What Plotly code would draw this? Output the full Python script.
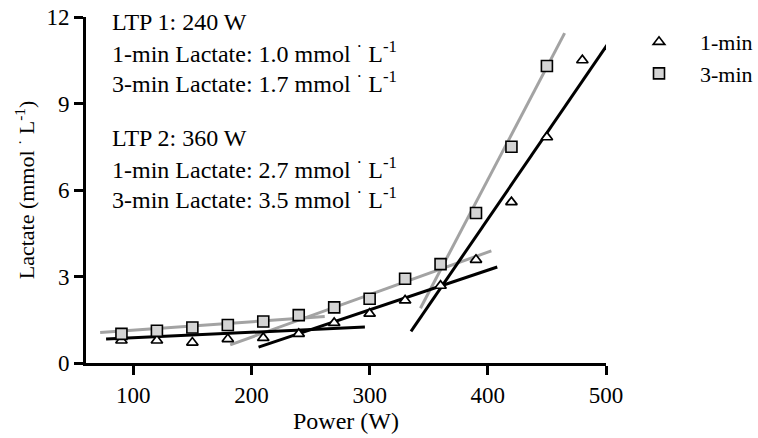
import plotly.graph_objects as go

# ---- data ----
power_1min = [90, 120, 150, 180, 210, 240, 270, 300, 330, 360, 390, 420, 450, 480]
lactate_1min = [0.78, 0.78, 0.71, 0.83, 0.87, 1.01, 1.39, 1.71, 2.17, 2.68, 3.58, 5.58, 7.83, 10.5]

power_3min = [90, 120, 150, 180, 210, 240, 270, 300, 330, 360, 390, 420, 450]
lactate_3min = [1.01, 1.12, 1.23, 1.32, 1.44, 1.66, 1.93, 2.23, 2.92, 3.43, 5.2, 7.5, 10.3]

# fitted regression segments (endpoints)
fit_1min_x = [[77, 296], [206, 408], [335, 501]]
fit_1min_y = [[0.83, 1.25], [0.55, 3.33], [1.1, 11.03]]
fit_3min_x = [[72, 262], [182, 403], [343, 465]]
fit_3min_y = [[1.06, 1.61], [0.63, 3.89], [1.9, 11.44]]

x_ticks = [100, 200, 300, 400, 500]
y_ticks = [0, 3, 6, 9, 12]

info_lines = [
    "LTP 1: 240 W",
    "1-min Lactate: 1.0 mmol <sup>·</sup> L<sup>-1</sup>",
    "3-min Lactate: 1.7 mmol <sup>·</sup> L<sup>-1</sup>",
    "LTP 2: 360 W",
    "1-min Lactate: 2.7 mmol <sup>·</sup> L<sup>-1</sup>",
    "3-min Lactate: 3.5 mmol <sup>·</sup> L<sup>-1</sup>",
]
info_pixel_y = [21.7, 51.7, 81.7, 138.3, 168.3, 198.3]

FONT = "Liberation Serif"
GRAY = "#a3a3a3"

fig = go.Figure()

for xs, ys in zip(fit_3min_x, fit_3min_y):
    fig.add_trace(go.Scatter(x=xs, y=ys, mode="lines", line=dict(color=GRAY, width=3),
                             showlegend=False, hoverinfo="skip"))
for xs, ys in zip(fit_1min_x, fit_1min_y):
    fig.add_trace(go.Scatter(x=xs, y=ys, mode="lines", line=dict(color="black", width=3),
                             showlegend=False, hoverinfo="skip"))

fig.add_trace(go.Scatter(x=power_1min, y=lactate_1min, mode="markers", name="1-min",
                         marker=dict(symbol="triangle-up", size=10, color="white",
                                     line=dict(color="black", width=1.7))))
fig.add_trace(go.Scatter(x=power_3min, y=lactate_3min, mode="markers", name="3-min",
                         marker=dict(symbol="square", size=11, color="#d4d4d4",
                                     line=dict(color="black", width=1.6))))

L, R, T, B = 86, 152, 17, 75
W, H = 758, 438
pw, ph = W - L - R, H - T - B

for txt, py in zip(info_lines, info_pixel_y):
    fig.add_annotation(text=txt, xref="paper", yref="paper",
                       x=(110 - L) / pw, y=(H - B - py) / ph,
                       xanchor="left", yanchor="middle", showarrow=False,
                       font=dict(family=FONT, size=24, color="black"))

fig.update_layout(
    width=W, height=H,
    margin=dict(l=L, r=R, t=T, b=B, autoexpand=False),
    paper_bgcolor="white", plot_bgcolor="white",
    font=dict(family=FONT, size=22, color="black"),
    legend=dict(x=(618 - L) / pw, y=(H - B - 21) / ph, xanchor="left", yanchor="top",
                font=dict(family=FONT, size=22), itemwidth=72, bgcolor="rgba(0,0,0,0)"),
    xaxis=dict(range=[60, 500], tickvals=x_ticks, showline=True, linecolor="black",
               linewidth=3, ticks="outside", ticklen=9, tickwidth=3, tickcolor="black",
               showgrid=False, zeroline=False, tickfont=dict(family=FONT, size=23),
               title=dict(text="Power (W)", font=dict(family=FONT, size=24), standoff=6)),
    yaxis=dict(range=[0, 12], tickvals=y_ticks, showline=True, linecolor="black",
               linewidth=3, ticks="outside", ticklen=9, tickwidth=3, tickcolor="black",
               showgrid=False, zeroline=False, tickfont=dict(family=FONT, size=23),
               title=dict(text="Lactate (mmol <sup>·</sup> L<sup>-1</sup>)",
                          font=dict(family=FONT, size=22), standoff=6)),
)

fig.write_html("out.html")
